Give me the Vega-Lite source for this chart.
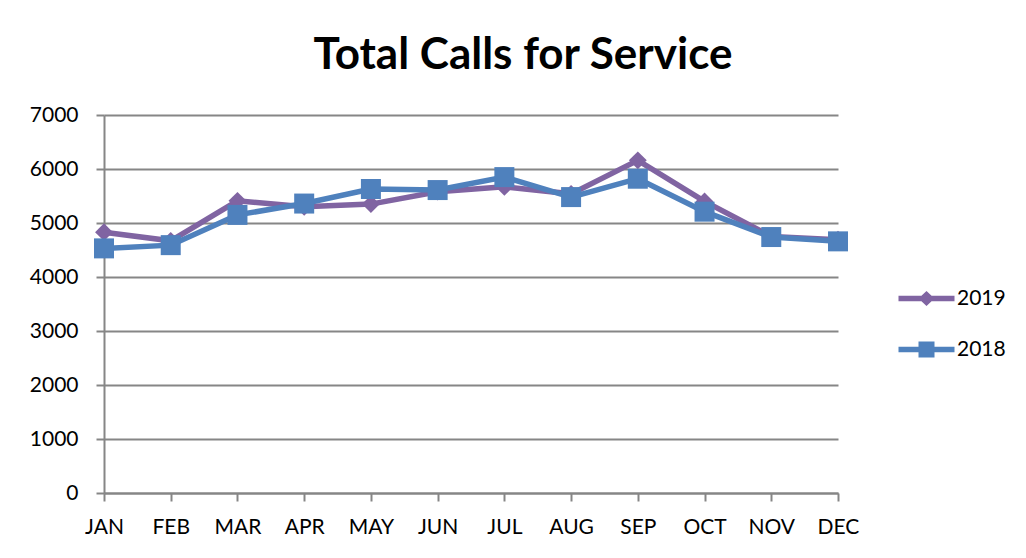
{
  "$schema": "https://vega.github.io/schema/vega-lite/v6.json",
  "autosize": "none",
  "width": 734,
  "height": 378,
  "padding": {"left": 104, "top": 115, "right": 188, "bottom": 65},
  "background": "white",
  "title": {
    "text": "Total Calls for Service",
    "font": "Lato",
    "fontSize": 44,
    "fontWeight": "bold",
    "color": "black",
    "frame": "group",
    "anchor": "middle",
    "dx": 52,
    "offset": 26
  },
  "config": {
    "view": {"stroke": null},
    "axis": {
      "labelFont": "Lato",
      "labelFontSize": 21,
      "labelColor": "black",
      "domainColor": "#868686",
      "domainWidth": 2,
      "tickColor": "#868686",
      "tickWidth": 2,
      "tickSize": 8,
      "gridColor": "#868686",
      "gridWidth": 2,
      "title": null
    }
  },
  "data": {
    "values": [
      {"month": "JAN", "year": "2019", "calls": 4830},
      {"month": "FEB", "year": "2019", "calls": 4670},
      {"month": "MAR", "year": "2019", "calls": 5410},
      {"month": "APR", "year": "2019", "calls": 5300},
      {"month": "MAY", "year": "2019", "calls": 5350},
      {"month": "JUN", "year": "2019", "calls": 5580},
      {"month": "JUL", "year": "2019", "calls": 5670},
      {"month": "AUG", "year": "2019", "calls": 5540},
      {"month": "SEP", "year": "2019", "calls": 6160},
      {"month": "OCT", "year": "2019", "calls": 5400},
      {"month": "NOV", "year": "2019", "calls": 4750},
      {"month": "DEC", "year": "2019", "calls": 4690},
      {"month": "JAN", "year": "2018", "calls": 4530},
      {"month": "FEB", "year": "2018", "calls": 4590},
      {"month": "MAR", "year": "2018", "calls": 5150},
      {"month": "APR", "year": "2018", "calls": 5360},
      {"month": "MAY", "year": "2018", "calls": 5630},
      {"month": "JUN", "year": "2018", "calls": 5610},
      {"month": "JUL", "year": "2018", "calls": 5850},
      {"month": "AUG", "year": "2018", "calls": 5480},
      {"month": "SEP", "year": "2018", "calls": 5820},
      {"month": "OCT", "year": "2018", "calls": 5210},
      {"month": "NOV", "year": "2018", "calls": 4740},
      {"month": "DEC", "year": "2018", "calls": 4660}
    ]
  },
  "encoding": {
    "x": {
      "field": "month",
      "type": "ordinal",
      "sort": ["JAN","FEB","MAR","APR","MAY","JUN","JUL","AUG","SEP","OCT","NOV","DEC"],
      "scale": {"type": "point", "padding": 0},
      "axis": {"labelAngle": 0, "labelPadding": 15, "grid": false}
    },
    "y": {
      "field": "calls",
      "type": "quantitative",
      "scale": {"domain": [0, 7000], "nice": false},
      "axis": {"values": [0,1000,2000,3000,4000,5000,6000,7000], "format": "d", "labelPadding": 18, "grid": true}
    }
  },
  "layer": [
    {
      "mark": {"type": "line", "strokeWidth": 5.5},
      "encoding": {
        "color": {
          "field": "year",
          "type": "nominal",
          "sort": ["2019", "2018"],
          "scale": {"domain": ["2019", "2018"], "range": ["#8064A2", "#4F81BD"]},
          "legend": {
            "orient": "none",
            "legendX": 812,
            "legendY": 173,
            "title": null,
            "padding": 0,
            "symbolSize": 400,
            "labelFont": "Lato",
            "labelFontSize": 21,
            "labelColor": "black",
            "labelOffset": 20,
            "rowPadding": 29,
            "encode": {
              "symbols": {
                "update": {
                  "shape": {"signal": "datum.value == '2019' ? 'M-2.8,-0.27H2.8V0.27H-2.8Z M0,-0.75L0.8,0L0,0.75L-0.8,0Z' : 'M-2.8,-0.27H2.8V0.27H-2.8Z M-0.8,-0.8H0.8V0.8H-0.8Z'"},
                  "fill": {"signal": "datum.value == '2019' ? '#8064A2' : '#4F81BD'"},
                  "fillOpacity": {"value": 1},
                  "strokeWidth": {"value": 0},
                  "opacity": {"value": 1}
                }
              }
            }
          }
        }
      }
    },
    {
      "transform": [{"filter": "datum.year == '2019'"}],
      "mark": {"type": "point", "filled": true, "opacity": 1, "shape": "diamond", "size": 320, "color": "#8064A2"}
    },
    {
      "transform": [{"filter": "datum.year == '2018'"}],
      "mark": {"type": "point", "filled": true, "opacity": 1, "shape": "square", "size": 400, "color": "#4F81BD"}
    }
  ]
}
